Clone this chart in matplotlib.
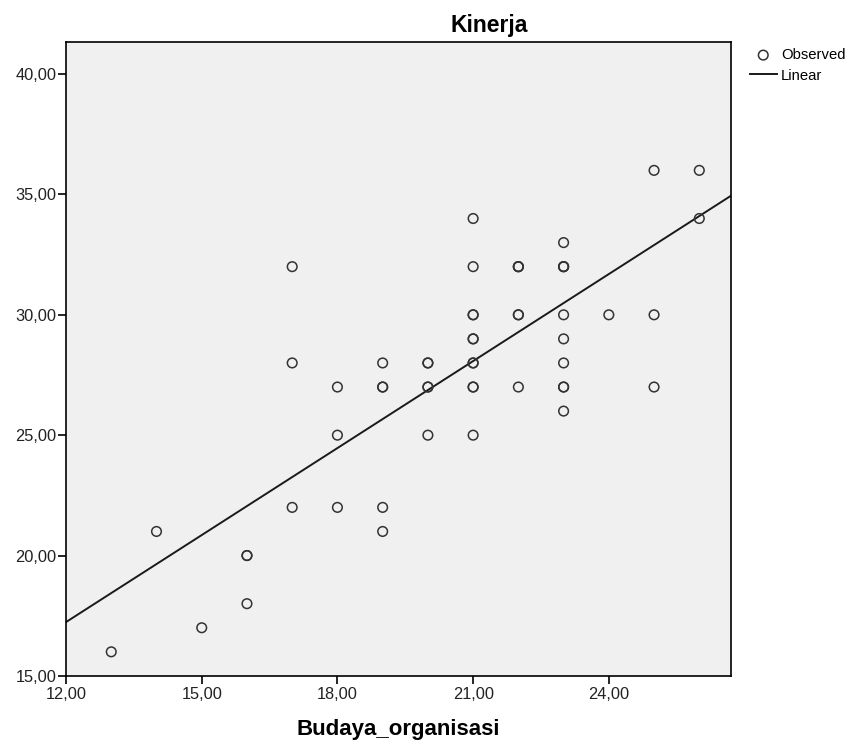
import matplotlib
matplotlib.use("Agg")
import matplotlib.pyplot as plt
import numpy as np
from matplotlib.ticker import FuncFormatter

plt.rcParams['font.family'] = ['Liberation Sans', 'DejaVu Sans']

# observed points (x = Budaya_organisasi, y = Kinerja); repeated pairs listed several times
budaya = [13, 14, 15, 16, 16, 16,
          17, 17, 17, 18, 18, 18,
          19, 19, 19, 19, 19,
          20, 20, 20, 20, 20,
          21, 21, 21, 21, 21, 21, 21, 21, 21, 21, 21,
          22, 22, 22, 22, 22, 22,
          23, 23, 23, 23, 23, 23, 23, 23, 23, 23,
          24, 25, 25, 25, 26, 26]
kinerja = [16, 21, 17, 20, 20, 18,
           32, 28, 22, 27, 25, 22,
           28, 27, 27, 22, 21,
           28, 28, 27, 27, 25,
           34, 32, 30, 30, 29, 29, 28, 28, 27, 27, 25,
           32, 32, 32, 30, 30, 27,
           33, 32, 32, 32, 30, 29, 28, 27, 27, 26,
           30, 36, 30, 27, 36, 34]

x = np.array(budaya, dtype=float)
y = np.array(kinerja, dtype=float)
slope, intercept = np.polyfit(x, y, 1)

fig = plt.figure(figsize=(8.63, 7.51), dpi=100)
ax = fig.add_axes([0.0765, 0.1, 0.7705, 0.844])
ax.set_facecolor('#f0f0f0')

xlim = (12, 26.7)
ylim = (15, 41.33)
ax.scatter(x, y, s=48, facecolors='none', edgecolors='#333333', linewidths=1.1,
           zorder=3, label='Observed')
xs = np.array(xlim)
ax.plot(xs, intercept + slope * xs, color='#1a1a1a', lw=1.4, zorder=2, label='Linear')

ax.set_xlim(*xlim)
ax.set_ylim(*ylim)
ax.set_xticks([12, 15, 18, 21, 24])
ax.set_yticks([15, 20, 25, 30, 35, 40])
fmt = FuncFormatter(lambda v, p: f"{v:.2f}".replace('.', ','))
ax.xaxis.set_major_formatter(fmt)
ax.yaxis.set_major_formatter(fmt)
ax.tick_params(direction='out', length=6, width=1.2, labelsize=11.8,
               colors='black', labelcolor='#222222')
ax.tick_params(axis='x', pad=2)
ax.tick_params(axis='y', pad=1)
for s in ax.spines.values():
    s.set_linewidth(1.2)
    s.set_color('black')

# SPSS puts the title right of the axes centre
ax.set_title('Kinerja', fontsize=16.5, fontweight='bold', pad=7, x=0.636)
ax.set_xlabel('Budaya_organisasi', fontsize=16, fontweight='bold', labelpad=12)

ax.legend(loc='upper left', bbox_to_anchor=(1.0195, 1.0), frameon=False, fontsize=10.7,
          handlelength=1.8, handletextpad=0.3, labelspacing=0.45,
          borderaxespad=0.2, borderpad=0.2)

fig.savefig('out.png', dpi=100)
